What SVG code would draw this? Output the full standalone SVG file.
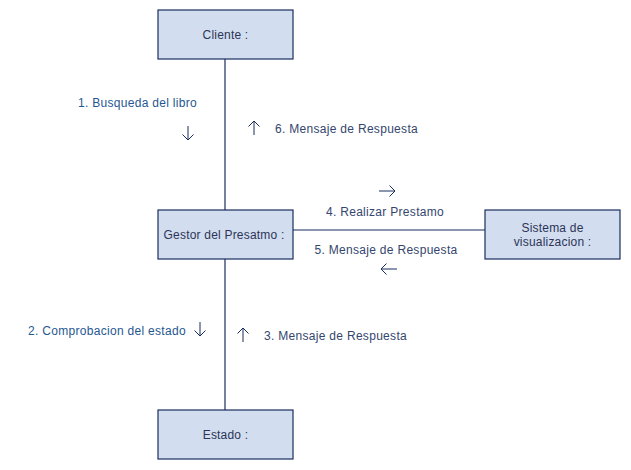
<svg xmlns="http://www.w3.org/2000/svg" width="631" height="470" viewBox="0 0 631 470">
<style>
.box{fill:#D3DDF0;stroke:#1B2D5E;stroke-width:1.2}
.nt{font-family:"Liberation Sans",Arial,sans-serif;font-size:12px;fill:#2B3556;text-anchor:middle;letter-spacing:0.2px}
.lb{font-family:"Liberation Sans",Arial,sans-serif;font-size:12px;fill:#34466E;letter-spacing:0.3px}
.lb2{fill:#1F5792}
.ln{stroke:#1B2D5E;stroke-width:1.2;fill:none}
.ar{stroke:#1B2D5E;stroke-width:1;fill:none}
</style>
<rect width="631" height="470" fill="#FFFFFF"/>
<g id="connectors">
<line class="ln" x1="225" y1="59" x2="225" y2="210"/>
<line class="ln" x1="225" y1="259" x2="225" y2="410"/>
<line class="ln" x1="293" y1="230" x2="485" y2="230"/>
</g>
<g id="arrows">
<path class="ar" d="M188 126 V140 M182.5 134.5 L188 140 L193.5 134.5"/>
<path class="ar" d="M254 135 V121 M248.5 126.5 L254 121 L259.5 126.5"/>
<path class="ar" d="M379 191 H395 M389.5 185.5 L395 191 L389.5 196.5"/>
<path class="ar" d="M397 269 H381 M386.5 263.5 L381 269 L386.5 274.5"/>
<path class="ar" d="M200 322 V336 M194.5 330.5 L200 336 L205.5 330.5"/>
<path class="ar" d="M243 342 V328 M237.5 333.5 L243 328 L248.5 333.5"/>
</g>
<g id="labels">
<text class="lb lb2" x="78" y="107">1. Busqueda del libro</text>
<text class="lb" x="275" y="133">6. Mensaje de Respuesta</text>
<text class="lb" x="385" y="216" text-anchor="middle">4. Realizar Prestamo</text>
<text class="lb" x="386" y="254" text-anchor="middle">5. Mensaje de Respuesta</text>
<text class="lb lb2" x="28" y="335">2. Comprobacion del estado</text>
<text class="lb" x="264" y="340">3. Mensaje de Respuesta</text>
</g>
<g id="cliente">
<rect class="box" x="158" y="10" width="135" height="49"/>
<text class="nt" x="225.5" y="39">Cliente :</text>
</g>
<g id="gestor">
<rect class="box" x="158" y="210" width="135" height="49"/>
<text class="nt" x="224" y="239">Gestor del Presatmo :</text>
</g>
<g id="sistema">
<rect class="box" x="485" y="210" width="135" height="49"/>
<text class="nt" x="552.5" y="232">Sistema de</text>
<text class="nt" x="552.5" y="246">visualizacion :</text>
</g>
<g id="estado">
<rect class="box" x="158" y="410" width="135" height="49"/>
<text class="nt" x="225.5" y="439">Estado :</text>
</g>
</svg>
